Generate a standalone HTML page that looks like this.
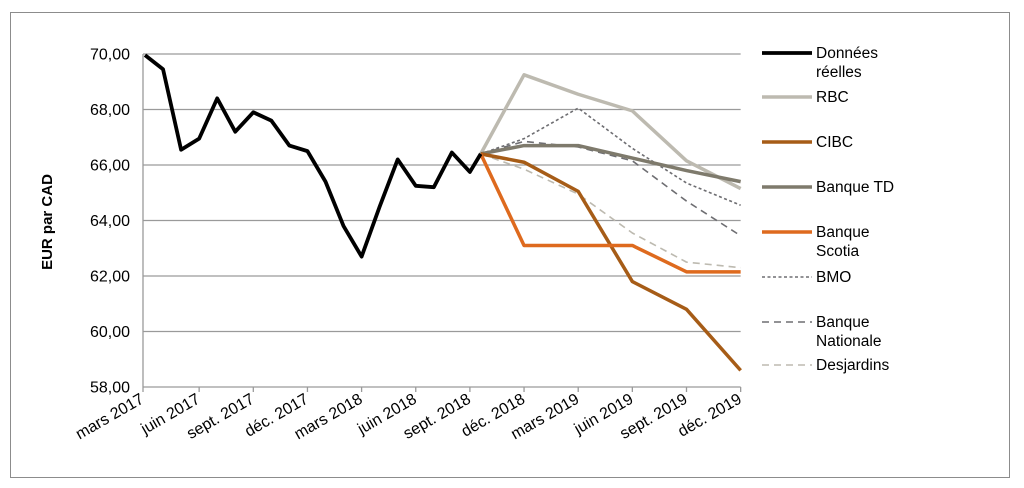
<!DOCTYPE html>
<html><head><meta charset="utf-8"><style>
html,body{margin:0;padding:0;background:#fff;}
svg{display:block;font-family:"Liberation Sans",Arial,sans-serif;}
</style></head><body>
<svg id="chart" width="1024" height="488" viewBox="0 0 1024 488">
<rect x="10.5" y="12.5" width="999" height="465" fill="#fff" stroke="#8c8c8c" stroke-width="1"/>
<g id="grid"></g><g id="axes"></g><g id="series"></g><g id="legend"></g>
<text transform="translate(52,222) rotate(-90)" text-anchor="middle" font-size="15" font-weight="bold" fill="#000">EUR par CAD</text>
</svg>
<script>
const yTicks=[58,60,62,64,66,68,70];
const xTickLabels=["mars 2017","juin 2017","sept. 2017","déc. 2017","mars 2018","juin 2018","sept. 2018","déc. 2018","mars 2019","juin 2019","sept. 2019","déc. 2019"];
const actualMonths=[0,1,2,3,4,5,6,7,8,9,10,11,12,13,14,15,16,17,18,18.6];
const actualValues=[69.96,69.45,66.55,66.95,68.4,67.2,67.9,67.6,66.7,66.5,65.4,63.8,62.7,64.5,66.2,65.25,65.2,66.45,65.75,66.4];
const forecastMonths=[18.6,21,24,27,30,33];
const rbcValues=[66.4,69.25,68.55,67.95,66.15,65.15];
const cibcValues=[66.4,66.1,65.05,61.8,60.8,58.6];
const tdValues=[66.4,66.7,66.7,66.25,65.8,65.4];
const scotiaValues=[66.4,63.1,63.1,63.1,62.15,62.15];
const bmoValues=[66.4,66.95,68.05,66.6,65.35,64.55];
const nationaleValues=[66.4,66.85,66.65,66.15,64.7,63.45];
const desjardinsValues=[66.4,65.85,64.95,63.55,62.5,62.3];

const NS="http://www.w3.org/2000/svg";
const X0=145,MPX=18.05,Y0=387,PPU=27.75;
const xs=m=>X0+m*MPX, ys=v=>Y0-(v-58)*PPU;
function el(t,a,p){const e=document.createElementNS(NS,t);for(const k in a)e.setAttribute(k,a[k]);p.appendChild(e);return e;}
const grid=document.getElementById('grid'),axes=document.getElementById('axes'),series=document.getElementById('series'),legend=document.getElementById('legend');
yTicks.forEach(v=>{
  if(v>58){const g=el('line',{x1:xs(0)-2,x2:xs(33),y1:ys(v),y2:ys(v),stroke:'#9a9a9a','stroke-width':1.3},grid);
  
  }
  const t=el('text',{x:130,y:ys(v)+5.5,'text-anchor':'end','font-size':16,fill:'#000'},axes);
  t.textContent=v.toFixed(2).replace('.',',');
  
  
});
const ya=el('line',{x1:xs(0)-2,x2:xs(0)-2,y1:ys(70),y2:ys(58),stroke:'#9a9a9a','stroke-width':1.3},axes);


const xa=el('line',{x1:xs(0)-2,x2:xs(33),y1:ys(58),y2:ys(58),stroke:'#9a9a9a','stroke-width':1.3},axes);


xTickLabels.forEach((l,i)=>{
  const x=xs(i*3)-(i==0?2:0);
  const tk=el('line',{x1:x,x2:x,y1:ys(58),y2:ys(58)+5,stroke:'#9a9a9a','stroke-width':1.3},axes);
  
  
  const t=el('text',{transform:`translate(${x+2},${ys(58)+15}) rotate(-30)`,'text-anchor':'end','font-size':16,fill:'#000'},axes);
  t.textContent=l;
  
  
});
const defs=[
 {n:'RBC',v:rbcValues,c:'#bdbab0',w:3.5,d:null,ly:97,lines:['RBC']},
 {n:'BMO',v:bmoValues,c:'#6e6e72',w:1.6,d:'3,2.5',ly:277,lines:['BMO']},
 {n:'Banque Nationale',v:nationaleValues,c:'#6e6e72',w:1.6,d:'7,5',ly:322,lines:['Banque','Nationale']},
 {n:'Desjardins',v:desjardinsValues,c:'#bdbab0',w:1.6,d:'7,5',ly:365,lines:['Desjardins']},
 {n:'Banque TD',v:tdValues,c:'#7e7a6c',w:3.5,d:null,ly:187,lines:['Banque TD']},
 {n:'CIBC',v:cibcValues,c:'#a65c17',w:3.5,d:null,ly:142,lines:['CIBC']},
 {n:'Banque Scotia',v:scotiaValues,c:'#de6a1e',w:3.5,d:null,ly:232,lines:['Banque','Scotia']},
];
function addLegend(name,c,w,d,ly,lines){
  const g=el('g',{},legend);
  
  
  const a={x1:762,x2:812,y1:ly,y2:ly,stroke:c,'stroke-width':w};if(d)a['stroke-dasharray']=d;
  el('line',a,g);
  lines.forEach((s,i)=>{const t=el('text',{x:816,y:ly+5+i*19,'font-size':15.5,fill:'#000'},g);t.textContent=s;});
}
defs.forEach(s=>{
  const a={points:forecastMonths.map((m,i)=>xs(m)+','+ys(s.v[i])).join(' '),fill:'none',stroke:s.c,'stroke-width':s.w,'stroke-linejoin':'round'};
  if(s.d)a['stroke-dasharray']=s.d;
  const p=el('polyline',a,series);
  
  
  addLegend(s.n,s.c,s.w,s.d,s.ly,s.lines);
});
const act=el('polyline',{points:actualMonths.map((m,i)=>xs(m)+','+ys(actualValues[i])).join(' '),fill:'none',stroke:'#000','stroke-width':3.8,'stroke-linejoin':'round'},series);


addLegend('Donnees reelles','#000',3.8,null,53,['Données','réelles']);
</script>
</body></html>
